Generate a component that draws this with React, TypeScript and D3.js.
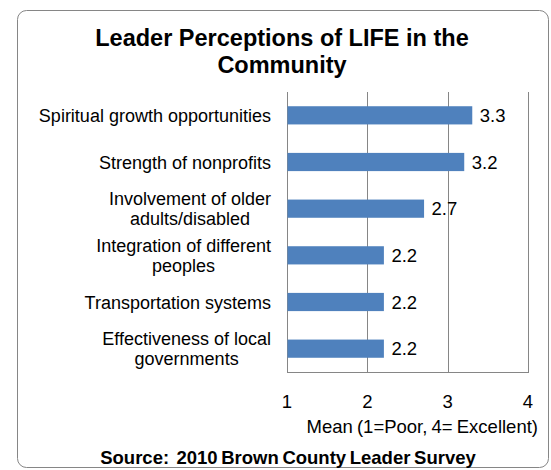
import { useEffect, useRef } from "react";
import * as d3 from "d3";

// Category labels (lines split where the chart wraps them) and mean values
const CATEGORIES = [
  ["Spiritual growth opportunities"],
  ["Strength of nonprofits"],
  ["Involvement of older", "adults/disabled"],
  ["Integration of different", "peoples"],
  ["Transportation systems"],
  ["Effectiveness of local", "governments"],
];
const VALUES = [3.3, 3.2, 2.7, 2.2, 2.2, 2.2];
const X_TICKS = [1, 2, 3, 4];

const TITLE = ["Leader Perceptions of LIFE in the", "Community"];
const X_TITLE = "Mean (1=Poor, 4= Excellent)";
const SOURCE = "Source:  2010 Brown County Leader Survey";

const FONT = "'Liberation Sans', Arial, sans-serif";
const BAR = "#4F81BD";
const GRID = "#868686";

export default function App() {
  const svgRef = useRef<SVGSVGElement>(null);

  useEffect(() => {
    const width = 551;
    const height = 470;
    const svg = d3.select(svgRef.current);
    svg.selectAll("*").remove();
    svg.attr("width", width).attr("height", height);

    // outer rounded frame
    svg.append("rect")
      .attr("x", 17.5).attr("y", 10.5)
      .attr("width", 531).attr("height", 457)
      .attr("rx", 9)
      .attr("fill", "#fff")
      .attr("stroke", GRID)
      .attr("stroke-width", 1);

    // title (one text, two lines)
    const title = svg.append("text")
      .attr("text-anchor", "middle")
      .attr("font-family", FONT)
      .attr("font-size", "23.5px")
      .attr("font-weight", "bold");
    TITLE.forEach((t, i) => {
      title.append("tspan").attr("x", 282).attr("y", 46 + i * 26.5).text(t);
    });

    const keys = CATEGORIES.map((c) => c.join(" "));
    const x = d3.scaleLinear().domain([1, 4]).range([287, 528]);
    const y = d3.scaleBand<string>()
      .domain(keys)
      .range([92, 372])
      .paddingInner(0.61)
      .paddingOuter(0.305);

    // ----- gridlines + axes -----
    X_TICKS.forEach((t) => {
      svg.append("line")
        .attr("x1", Math.round(x(t)) + 0.5).attr("x2", Math.round(x(t)) + 0.5)
        .attr("y1", 92).attr("y2", 372)
        .attr("stroke", GRID);
      svg.append("text")
        .attr("x", x(t)).attr("y", 408)
        .attr("text-anchor", "middle")
        .attr("font-family", FONT)
        .attr("font-size", "18.5px")
        .text(t);
    });
    svg.append("line")
      .attr("x1", 287).attr("x2", 529)
      .attr("y1", 372.5).attr("y2", 372.5)
      .attr("stroke", GRID);

    // ----- bars -----
    svg.append("g").selectAll("rect")
      .data(VALUES)
      .join("rect")
      .attr("x", x(1) + 0.5)
      .attr("y", (_d, i) => y(keys[i])!)
      .attr("width", (d) => x(d) - x(1))
      .attr("height", y.bandwidth())
      .attr("fill", BAR);

    // value labels
    svg.append("g").selectAll("text")
      .data(VALUES)
      .join("text")
      .attr("x", (d) => x(d) + 8)
      .attr("y", (_d, i) => y(keys[i])! + y.bandwidth() / 2 + 6.5)
      .attr("font-family", FONT)
      .attr("font-size", "18.5px")
      .text((d) => d.toFixed(1));

    // category labels: block right-aligned, lines centred within the block
    const right = 271;
    const lineH = 20.3;
    CATEGORIES.forEach((lines, i) => {
      const cy = y(keys[i])! + y.bandwidth() / 2;
      const label = svg.append("text")
        .attr("text-anchor", "middle")
        .attr("font-family", FONT)
        .attr("font-size", "18px");
      const spans = lines.map((l, j) =>
        label.append("tspan")
          .attr("y", cy + 6.5 + (j - (lines.length - 1) / 2) * lineH)
          .text(l)
      );
      const w = d3.max(spans, (s) => (s.node() as SVGTSpanElement).getComputedTextLength()) ?? 0;
      spans.forEach((s) => s.attr("x", right - w / 2));
    });

    // axis title
    svg.append("text")
      .attr("x", 538).attr("y", 433)
      .attr("text-anchor", "end")
      .attr("font-family", FONT)
      .attr("font-size", "18.5px")
      .attr("word-spacing", "-1px")
      .text(X_TITLE);

    // source line
    svg.append("text")
      .attr("x", 288).attr("y", 464)
      .attr("text-anchor", "middle")
      .attr("font-family", FONT)
      .attr("font-size", "18.5px")
      .attr("font-weight", "bold")
      .attr("word-spacing", "-1.5px")
      .style("white-space", "pre")
      .text(SOURCE);
  }, []);

  return (
    <svg
      ref={svgRef}
      style={{ position: "absolute", left: 0, top: 0, display: "block" }}
    />
  );
}
